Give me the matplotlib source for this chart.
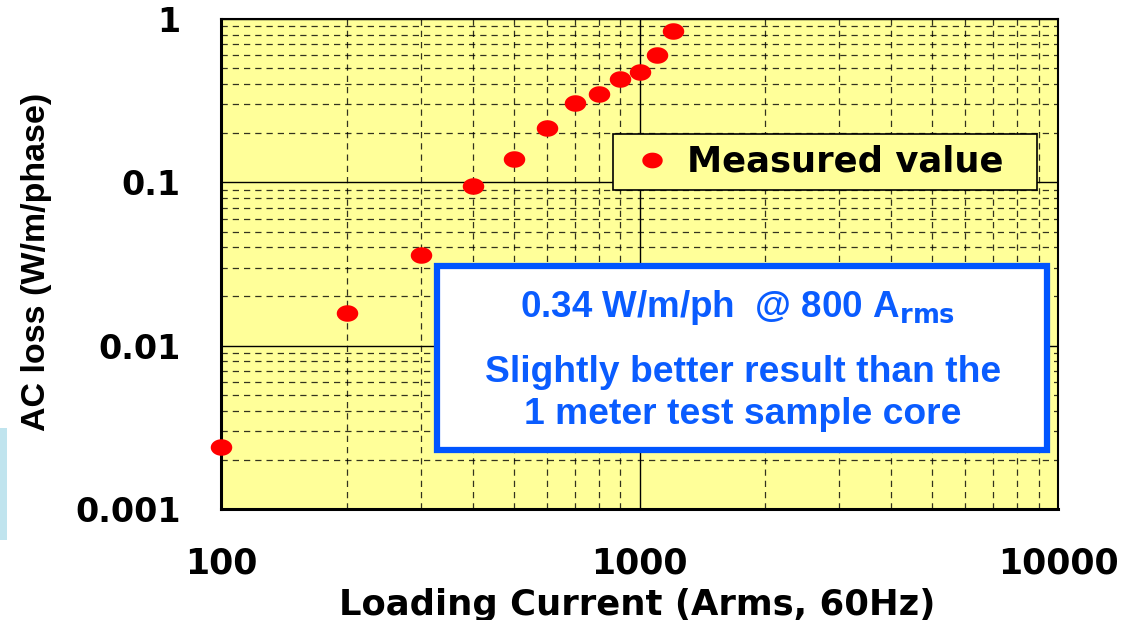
import matplotlib.pyplot as plt
import numpy as np
from matplotlib.path import Path
from matplotlib.patches import Rectangle
from matplotlib.ticker import FixedLocator, NullFormatter

# data
current = [100, 200, 300, 400, 500, 600, 700, 800, 900, 1000, 1100, 1200]
ac_loss = [0.00239, 0.0158, 0.0359, 0.0949, 0.139, 0.215, 0.306, 0.347, 0.429, 0.474, 0.602, 0.845]

x_ticks = [100, 1000, 10000]
x_labels = ['100', '1000', '10000']
y_ticks = [0.001, 0.01, 0.1, 1]
y_labels = ['0.001', '0.01', '0.1', '1']

plt.rcParams['font.family'] = ['DejaVu Sans']
plt.rcParams['mathtext.fontset'] = 'custom'
plt.rcParams['mathtext.rm'] = 'Liberation Sans Narrow:bold'
plt.rcParams['mathtext.bf'] = 'Liberation Sans Narrow:bold'

fig = plt.figure(figsize=(11.34, 6.2), dpi=100)
ax = fig.add_axes([221 / 1134, 1 - 509 / 620, (1058 - 221) / 1134, (509 - 19) / 620])
ax.set_facecolor('#ffff99')

# slightly wide ellipse marker
t = np.linspace(0, 2 * np.pi, 40)
ellipse = Path(np.column_stack([1.3 * np.cos(t), np.sin(t)]), closed=True)

ax.plot(current, ac_loss, linestyle='none', marker=ellipse, markersize=15.5,
        color='#ff0000', markeredgewidth=0, label='Measured value',
        clip_on=False, zorder=5)

ax.set_xscale('log')
ax.set_yscale('log')
ax.set_xlim(100, 10000)
ax.set_ylim(0.001, 1)

ax.xaxis.set_major_locator(FixedLocator(x_ticks))
ax.yaxis.set_major_locator(FixedLocator(y_ticks))
ax.set_xticklabels(x_labels)
ax.set_yticklabels(y_labels)
ax.xaxis.set_minor_formatter(NullFormatter())
ax.yaxis.set_minor_formatter(NullFormatter())

ax.grid(which='major', color='black', linestyle='-', linewidth=1.0)
ax.grid(which='minor', color='black', linestyle=(0, (5, 4)), linewidth=0.9, alpha=0.8)
ax.set_axisbelow(True)

ax.tick_params(which='both', length=0)
ax.tick_params(axis='x', pad=27, labelsize=25)
ax.tick_params(axis='y', pad=29, labelsize=24)
for lab in ax.get_xticklabels() + ax.get_yticklabels():
    lab.set_fontweight('bold')

for side, sp in ax.spines.items():
    sp.set_color('black')
    sp.set_linewidth(2.2 if side in ('left', 'bottom') else 1.5)

ax.set_xlabel('Loading Current (Arms, 60Hz)', fontsize=25.5, fontweight='bold', va='top')
ax.xaxis.set_label_coords((637 - 221) / 837, 1 - (588 - 19) / 490)
ax.set_ylabel('AC loss (W/m/phase)', fontsize=24.5, fontweight='bold',
              family=['Liberation Sans', 'DejaVu Sans'])
ax.yaxis.set_label_coords((52 - 221) / 837, 1 - (262 - 19) / 490)

leg = ax.legend(loc='center', bbox_to_anchor=((613 - 221) / 837, 1 - (193 - 19) / 490,
                (1037 - 613) / 837, (193 - 131) / 490), mode='expand', borderaxespad=0,
                fancybox=False, framealpha=1, facecolor='#ffff99', edgecolor='black',
                prop={'size': 25.5, 'weight': 'bold'}, handletextpad=0.2,
                borderpad=0.3, handlelength=1.6, markerscale=0.95)
leg.get_frame().set_linewidth(1.2)

# blue annotation box
box = Rectangle(((437 - 221) / 837, 1 - (450 - 19) / 490), (1047 - 437) / 837, (450 - 266) / 490,
                transform=ax.transAxes, facecolor='white', edgecolor='#0055ff',
                linewidth=4.5, zorder=6)
ax.add_patch(box)
blue = '#0a5cff'
narrow = ['Liberation Sans Narrow', 'Liberation Sans', 'DejaVu Sans']
cx = (742 - 221) / 837
ax.text(cx - 0.005, 1 - (308 - 19) / 490, r'0.34 W/m/ph  @ 800 A$_{\mathrm{rms}}$', transform=ax.transAxes,
        ha='center', va='center', color=blue, fontsize=26.5, fontweight='bold',
        family=narrow, zorder=7)
ax.text(cx + 0.001, 1 - (373 - 19) / 490, 'Slightly better result than the', transform=ax.transAxes,
        ha='center', va='center', color=blue, fontsize=26.8, fontweight='bold',
        family=narrow, zorder=7)
ax.text(cx + 0.001, 1 - (414 - 19) / 490, '1 meter test sample core', transform=ax.transAxes,
        ha='center', va='center', color=blue, fontsize=26.8, fontweight='bold',
        family=narrow, zorder=7)

# pale blue strip at the left edge
fig.patches.append(Rectangle((0, 1 - 540 / 620), 7 / 1134, 112 / 620,
                             transform=fig.transFigure, facecolor='#c0e4ee',
                             edgecolor='none'))

fig.savefig('out.png', dpi=100)
